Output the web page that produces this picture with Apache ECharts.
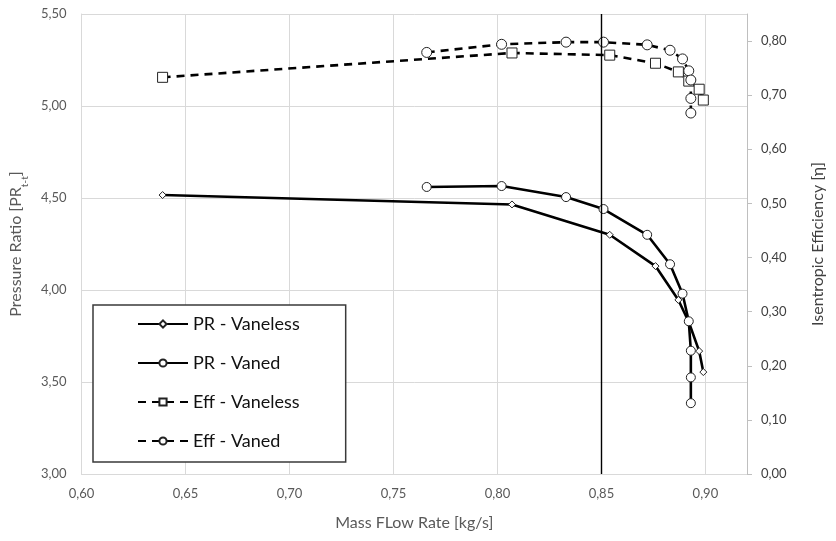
<!DOCTYPE html>
<html>
<head>
<meta charset="utf-8">
<script src="https://cdn.jsdelivr.net/npm/echarts@6/dist/echarts.min.js"></script>
<style>
html,body{margin:0;padding:0;background:#fff;}
#chart{width:836px;height:541px;}
</style>
</head>
<body>
<div id="chart"></div>
<script>
// ---- data ----
const massVaneless = [0.639, 0.807, 0.854, 0.876, 0.887, 0.892, 0.897, 0.899];
const prVaneless   = [4.516, 4.465, 4.30, 4.13, 3.946, 3.826, 3.668, 3.554];
const effVaneless  = [0.733, 0.778, 0.774, 0.759, 0.743, 0.726, 0.711, 0.691];

const massVaned = [0.766, 0.802, 0.833, 0.851, 0.872, 0.883, 0.889, 0.892, 0.893, 0.893, 0.893];
const prVaned   = [4.56, 4.565, 4.505, 4.44, 4.30, 4.14, 3.98, 3.83, 3.67, 3.525, 3.385];
const effVaned  = [0.779, 0.794, 0.798, 0.798, 0.793, 0.783, 0.767, 0.745, 0.728, 0.694, 0.667];

const seriesNames = ['PR - Vaneless', 'PR - Vaned', 'Eff - Vaneless', 'Eff - Vaned'];
const refMassFlow = 0.85;

const xTicks = [0.60, 0.65, 0.70, 0.75, 0.80, 0.85, 0.90];
const prTicks = [3.00, 3.50, 4.00, 4.50, 5.00, 5.50];
const effTicks = [0.00, 0.10, 0.20, 0.30, 0.40, 0.50, 0.60, 0.70, 0.80];

const zip = (a, b) => a.map((v, i) => [v, b[i]]);
const fmt = v => v.toFixed(2).replace('.', ',');

const FONT = 'Lato';
const chart = echarts.init(document.getElementById('chart'), null, {renderer: 'canvas'});

const baseLine = (name, data, yIdx, dashed, symbol, size) => ({
  name, type: 'line', data, yAxisIndex: yIdx,
  symbol, symbolSize: size, showSymbol: true,
  lineStyle: {color: '#000', width: 2.6, type: dashed ? [8, 6] : 'solid'},
  itemStyle: {color: '#fff', borderColor: '#222', borderWidth: 1},
  animation: false, z: 3
});

const option = {
  backgroundColor: '#fff',
  textStyle: {fontFamily: FONT},
  grid: {left: 81, right: 89, top: 14, bottom: 67},
  legend: {
    orient: 'vertical', left: 93, top: 305,
    padding: [10, 46, 12, 44],
    itemWidth: 50, itemHeight: 9, itemGap: 21,
    backgroundColor: '#fff', borderColor: '#3a3a3a', borderWidth: 1.5,
    textStyle: {fontFamily: FONT, fontSize: 18, color: '#111'},
    data: seriesNames
  },
  xAxis: {
    type: 'value', min: 0.60, max: 0.92, interval: 0.05,
    name: 'Mass FLow Rate [kg/s]', nameLocation: 'middle', nameGap: 41,
    nameTextStyle: {fontFamily: FONT, fontSize: 16, color: '#595959'},
    axisLine: {show: true, lineStyle: {color: '#d9d9d9'}},
    axisTick: {show: false},
    axisLabel: {customValues: xTicks, formatter: fmt, color: '#595959', fontSize: 13, margin: 13, fontFamily: FONT},
    splitLine: {show: true, lineStyle: {color: '#d9d9d9', width: 1}}
  },
  yAxis: [{
    type: 'value', min: 3.00, max: 5.50, interval: 0.5, position: 'left',
    name: 'Pressure Ratio [PR{sub|t-t}]', nameLocation: 'middle', nameGap: 50, nameRotate: 90,
    nameTextStyle: {fontFamily: FONT, fontSize: 16, color: '#595959',
      rich: {sub: {fontSize: 10, color: '#595959', verticalAlign: 'bottom', padding: [0, 0, -6, 0]}}},
    axisLine: {show: true, lineStyle: {color: '#d9d9d9'}},
    axisTick: {show: false},
    axisLabel: {customValues: prTicks, formatter: fmt, color: '#595959', fontSize: 13, margin: 15, fontFamily: FONT},
    splitLine: {show: true, lineStyle: {color: '#d9d9d9', width: 1}}
  }, {
    type: 'value', min: 0, max: 0.85, interval: 0.1, position: 'right',
    name: 'Isentropic Efficiency [η]', nameLocation: 'middle', nameGap: 63, nameRotate: 90,
    nameTextStyle: {fontFamily: FONT, fontSize: 16, color: '#404040'},
    axisLine: {show: true, lineStyle: {color: '#bfbfbf'}},
    axisTick: {show: true, inside: false, length: 5, customValues: effTicks, lineStyle: {color: '#bfbfbf'}},
    axisLabel: {customValues: effTicks, formatter: fmt, color: '#404040', fontSize: 13, margin: 14, fontFamily: FONT},
    splitLine: {show: false}
  }],
  series: [
    Object.assign(baseLine(seriesNames[0], zip(massVaneless, prVaneless), 0, false, 'diamond', 7), {
      markLine: {
        silent: true, symbol: 'none', animation: false,
        label: {show: false},
        lineStyle: {color: '#000', width: 1.4, type: 'solid'},
        data: [{xAxis: refMassFlow}]
      }
    }),
    baseLine(seriesNames[1], zip(massVaned, prVaned), 0, false, 'circle', 9),
    baseLine(seriesNames[2], zip(massVaneless, effVaneless), 1, true, 'rect', 10),
    baseLine(seriesNames[3], zip(massVaned, effVaned), 1, true, 'circle', 10)
  ]
};
chart.setOption(option);
</script>
</body>
</html>
